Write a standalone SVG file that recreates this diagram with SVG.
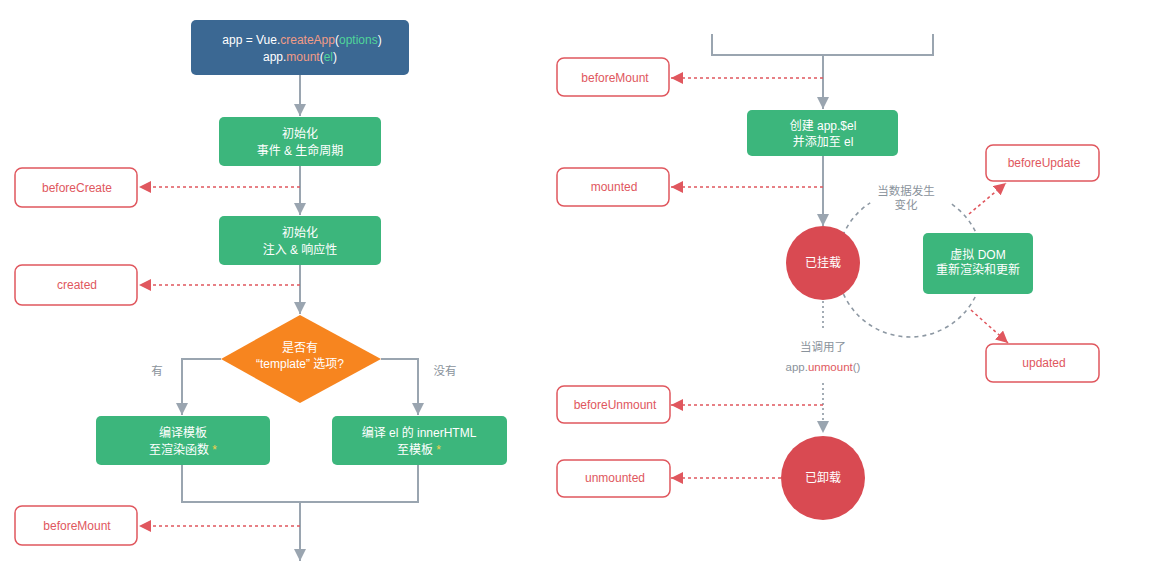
<svg xmlns="http://www.w3.org/2000/svg" width="1154" height="562" viewBox="0 0 1154 562">
<style>
text{font-family:"Liberation Sans","Noto Sans CJK SC",sans-serif;font-size:12px;text-anchor:middle}
.w{fill:#ffffff}
.g{fill:#3cb67c}
.hook{fill:#ffffff;stroke:#e0575e;stroke-width:1.5}
.ht{fill:#e0575e;font-size:12px}
.flow{fill:none;stroke:#9aa5b0;stroke-width:2}
.red{fill:none;stroke:#e0575e;stroke-width:1.6;stroke-dasharray:3,3}
.gd{fill:none;stroke:#8d98a3;stroke-width:1.6;stroke-dasharray:4,4}
.gdot{fill:none;stroke:#8d98a3;stroke-width:1.6;stroke-dasharray:2,3}
.lbl{fill:#8a939c;font-size:11.5px}
</style>
<defs>
<marker id="ag" markerUnits="userSpaceOnUse" markerWidth="14" markerHeight="12" refX="12" refY="6" orient="auto"><path d="M0,0 L12,6 L0,12 Z" fill="#9aa5b0"/></marker>
<marker id="ar" markerUnits="userSpaceOnUse" markerWidth="14" markerHeight="12" refX="12" refY="6" orient="auto"><path d="M0,0 L12,6 L0,12 Z" fill="#e0575e"/></marker>
</defs>
<rect width="1154" height="562" fill="#ffffff"/>

<g id="connectors">
<line class="flow" x1="300" y1="75" x2="300" y2="116" marker-end="url(#ag)"/>
<line class="flow" x1="300" y1="166" x2="300" y2="215" marker-end="url(#ag)"/>
<line class="flow" x1="300" y1="265" x2="300" y2="314" marker-end="url(#ag)"/>
<polyline class="flow" points="221,359 182,359 182,415" marker-end="url(#ag)"/>
<polyline class="flow" points="381,359 418,359 418,415" marker-end="url(#ag)"/>
<polyline class="flow" points="182,465 182,502 418,502 418,465"/>
<line class="flow" x1="300" y1="502" x2="300" y2="561" marker-end="url(#ag)"/>
<line class="red" x1="300" y1="187" x2="139" y2="187" marker-end="url(#ar)"/>
<line class="red" x1="300" y1="285" x2="139" y2="285" marker-end="url(#ar)"/>
<line class="red" x1="300" y1="526" x2="139" y2="526" marker-end="url(#ar)"/>

<polyline class="flow" points="712,34 712,55 933,55 933,34"/>
<line class="flow" x1="823" y1="55" x2="823" y2="109" marker-end="url(#ag)"/>
<line class="flow" x1="823" y1="156" x2="823" y2="226" marker-end="url(#ag)"/>
<line class="red" x1="823" y1="78" x2="671" y2="78" marker-end="url(#ar)"/>
<line class="red" x1="823" y1="187" x2="671" y2="187" marker-end="url(#ar)"/>
<path class="gd" d="M 951.9 204.2 A 73 73 0 1 1 870.2 202.8"/>
<line class="red" x1="969" y1="214" x2="1006" y2="183" marker-end="url(#ar)"/>
<line class="red" x1="971" y1="310" x2="1008" y2="343" marker-end="url(#ar)"/>
<line class="gdot" x1="823" y1="301" x2="823" y2="330"/>
<line class="gdot" x1="823" y1="383" x2="823" y2="433" marker-end="url(#ag)"/>
<line class="red" x1="823" y1="405" x2="671" y2="405" marker-end="url(#ar)"/>
<line class="red" x1="781" y1="478" x2="671" y2="478" marker-end="url(#ar)"/>
</g>

<g id="create-app">
<rect x="191" y="20" width="218" height="55" rx="5" fill="#3b6893"/>
<text x="302" y="44" class="w" font-size="12.5">app = Vue.<tspan fill="#f19b86">createApp</tspan>(<tspan fill="#4fd49a">options</tspan>)</text>
<text x="300" y="61" class="w" font-size="12.5">app.<tspan fill="#f19b86">mount</tspan>(<tspan fill="#4fd49a">el</tspan>)</text>
</g>
<g id="init-events">
<rect x="219" y="117" width="162" height="49" rx="5" class="g"/>
<text x="300" y="138" class="w">初始化</text>
<text x="300" y="155" class="w">事件 &amp; 生命周期</text>
</g>
<g id="beforeCreate">
<rect x="15" y="168" width="122" height="39" rx="7" class="hook"/>
<text x="77" y="192" class="ht">beforeCreate</text>
</g>
<g id="init-inject">
<rect x="219" y="216" width="162" height="49" rx="5" class="g"/>
<text x="300" y="237" class="w">初始化</text>
<text x="300" y="254" class="w">注入 &amp; 响应性</text>
</g>
<g id="created">
<rect x="15" y="265" width="122" height="40" rx="7" class="hook"/>
<text x="77" y="289" class="ht">created</text>
</g>
<g id="has-template">
<polygon points="300,315 381,359 300,403 221,359" fill="#f7851f"/>
<text x="300" y="352" class="w">是否有</text>
<text x="300" y="368" class="w">“template” 选项?</text>
</g>
<text x="157" y="375" class="lbl">有</text>
<text x="445" y="375" class="lbl">没有</text>
<g id="compile-template">
<rect x="96" y="416" width="174" height="49" rx="5" class="g"/>
<text x="183" y="437" class="w">编译模板</text>
<text x="183" y="454" class="w">至渲染函数 <tspan fill="#f6d04d">*</tspan></text>
</g>
<g id="compile-el">
<rect x="332" y="416" width="175" height="49" rx="5" class="g"/>
<text x="419" y="437" class="w">编译 el 的 innerHTML</text>
<text x="419" y="454" class="w">至模板 <tspan fill="#f6d04d">*</tspan></text>
</g>
<g id="beforeMount-left">
<rect x="15" y="506" width="122" height="39" rx="7" class="hook"/>
<text x="77" y="530" class="ht">beforeMount</text>
</g>

<g id="beforeMount-right">
<rect x="557" y="58" width="112" height="38" rx="7" class="hook"/>
<text x="615" y="82" class="ht">beforeMount</text>
</g>
<g id="create-el">
<rect x="747" y="110" width="151" height="46" rx="5" class="g"/>
<text x="823" y="130" class="w">创建 app.$el</text>
<text x="823" y="146" class="w">并添加至 el</text>
</g>
<g id="mounted">
<rect x="557" y="168" width="112" height="38" rx="7" class="hook"/>
<text x="614" y="191" class="ht">mounted</text>
</g>
<text x="906" y="195" class="lbl">当数据发生</text>
<text x="906" y="209" class="lbl">变化</text>
<g id="mounted-state">
<circle cx="823" cy="263" r="37" fill="#d94a52"/>
<text x="823" y="267" class="w">已挂载</text>
</g>
<g id="vdom">
<rect x="923" y="233" width="110" height="61" rx="5" class="g"/>
<text x="978" y="259" class="w">虚拟 DOM</text>
<text x="978" y="274" class="w">重新渲染和更新</text>
</g>
<g id="beforeUpdate">
<rect x="986" y="145" width="113" height="36" rx="7" class="hook"/>
<text x="1044" y="167" class="ht">beforeUpdate</text>
</g>
<g id="updated">
<rect x="986" y="344" width="113" height="38" rx="7" class="hook"/>
<text x="1044" y="367" class="ht">updated</text>
</g>
<text x="823" y="351" class="lbl">当调用了</text>
<text x="823" y="371" class="lbl">app.<tspan fill="#e0575e">unmount</tspan>()</text>
<g id="beforeUnmount">
<rect x="557" y="386" width="113" height="37" rx="7" class="hook"/>
<text x="615" y="409" class="ht">beforeUnmount</text>
</g>
<g id="unmounted">
<rect x="557" y="460" width="113" height="37" rx="7" class="hook"/>
<text x="615" y="482" class="ht">unmounted</text>
</g>
<g id="unmounted-state">
<circle cx="823" cy="478" r="42" fill="#d94a52"/>
<text x="823" y="482" class="w">已卸载</text>
</g>
</svg>
